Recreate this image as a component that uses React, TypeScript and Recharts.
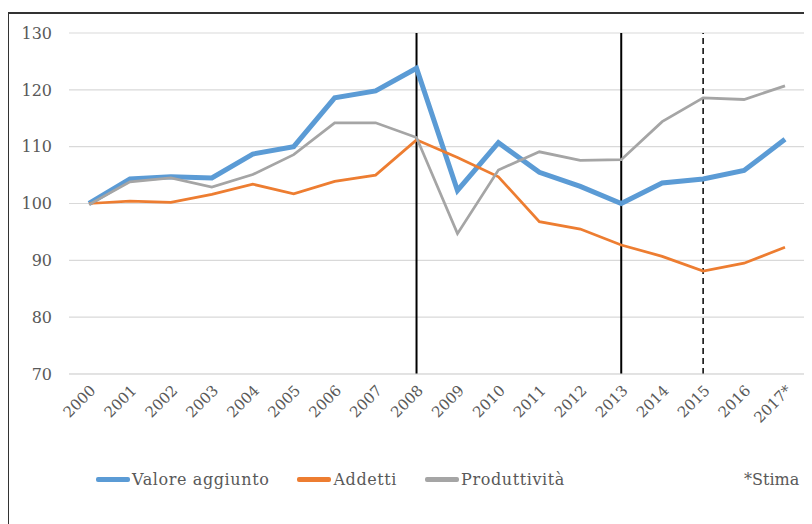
import React from 'react';
import { LineChart, Line, XAxis, YAxis, CartesianGrid, ReferenceLine } from 'recharts';

// Index 2000 = 100

const years = [
  '2000', '2001', '2002', '2003', '2004', '2005', '2006', '2007', '2008',
  '2009', '2010', '2011', '2012', '2013', '2014', '2015', '2016', '2017*',
];

const valoreAggiunto = [
  100, 104.3, 104.7, 104.5, 108.7, 110, 118.6, 119.8, 123.8,
  102.3, 110.7, 105.5, 103, 100, 103.6, 104.3, 105.8, 111.3,
];

const addetti = [
  100, 100.4, 100.2, 101.6, 103.4, 101.7, 103.9, 105, 111.2,
  108.1, 104.7, 96.8, 95.5, 92.7, 90.7, 88.1, 89.5, 92.3,
];

const produttivita = [
  99.8, 103.8, 104.5, 102.9, 105.1, 108.6, 114.2, 114.2, 111.6,
  94.7, 105.9, 109.1, 107.6, 107.7, 114.4, 118.6, 118.3, 120.7,
];

const yTicks = [70, 80, 90, 100, 110, 120, 130];

const solidMarkers = ['2008', '2013'];
const dashedMarker = '2015';

const series = [
  { key: 'va', name: 'Valore aggiunto', color: '#5B9BD5', width: 5 },
  { key: 'add', name: 'Addetti', color: '#ED7D31', width: 2.75 },
  { key: 'prod', name: 'Produttività', color: '#A5A5A5', width: 2.75 },
];

const data = years.map((year, i) => ({
  year,
  va: valoreAggiunto[i],
  add: addetti[i],
  prod: produttivita[i],
}));

const font = '"DejaVu Serif", serif';
const textColor = '#595959';

export default function App() {
  return (
    <div style={{ position: 'relative', width: 812, height: 524, marginLeft: -8, marginTop: -8, overflow: 'hidden', background: '#fff' }}>
      <div style={{ position: 'absolute', left: 0, top: 0 }}>
        <LineChart width={812} height={524} data={data} margin={{ top: 33, right: 7, left: 0, bottom: 90 }}>
          <CartesianGrid vertical={false} stroke="#d9d9d9" strokeWidth={1.2} />
          <XAxis
            dataKey="year"
            height={60}
            padding={{ left: 20, right: 20 }}
            axisLine={{ stroke: '#d9d9d9' }}
            tickLine={false}
            interval={0}
            angle={-45}
            textAnchor="end"
            tick={{ fill: textColor, fontFamily: font, fontSize: 15 }}
            tickMargin={4}
          />
          <YAxis
            width={69}
            domain={[70, 130]}
            ticks={yTicks}
            axisLine={false}
            tickLine={false}
            tickMargin={11}
            tick={{ fill: textColor, fontFamily: font, fontSize: 16 }}
          />
          {solidMarkers.map((x) => (
            <ReferenceLine key={x} x={x} stroke="#000" strokeWidth={2} />
          ))}
          <ReferenceLine x={dashedMarker} stroke="#000" strokeWidth={1.5} strokeDasharray="6 4" />
          {series.map((s) => (
            <Line
              key={s.key}
              dataKey={s.key}
              name={s.name}
              stroke={s.color}
              strokeWidth={s.width}
              dot={false}
              type="linear"
              isAnimationActive={false}
            />
          ))}
        </LineChart>
      </div>
      <div
        style={{
          position: 'absolute',
          left: 7,
          top: 12,
          width: 830,
          height: 540,
          borderLeft: '2px solid #333',
          borderTop: '2px solid #333',
          zIndex: 2,
          pointerEvents: 'none',
        }}
      />
      <div
        style={{
          position: 'absolute',
          left: 96,
          top: 470,
          display: 'flex',
          alignItems: 'center',
          fontFamily: font,
          fontSize: 16,
          letterSpacing: 0.6,
          color: textColor,
        }}
      >
        {series.map((s) => (
          <div key={s.key} style={{ display: 'flex', alignItems: 'center', marginRight: 28 }}>
            <span style={{ display: 'inline-block', width: 34, height: 5, background: s.color, borderRadius: 2, marginRight: 2 }} />
            <span>{s.name}</span>
          </div>
        ))}
      </div>
      <div
        style={{
          position: 'absolute',
          left: 744,
          top: 470,
          fontFamily: font,
          fontSize: 16,
          color: textColor,
        }}
      >
        *Stima
      </div>
    </div>
  );
}
